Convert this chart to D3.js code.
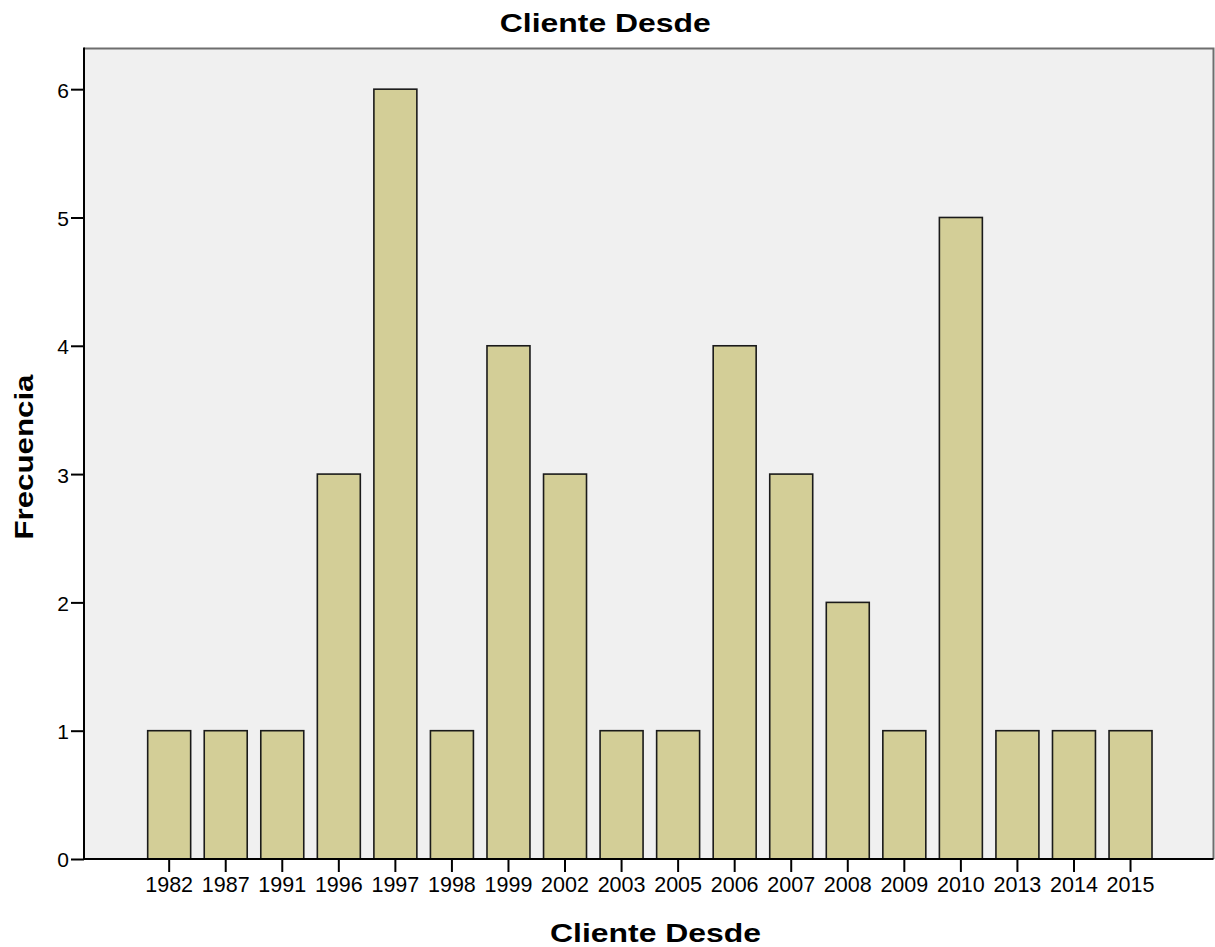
<!DOCTYPE html>
<html>
<head>
<meta charset="utf-8">
<script src="https://cdn.jsdelivr.net/npm/d3@7"></script>
<style>
  html, body { margin: 0; padding: 0; background: #ffffff; }
  svg { display: block; }
  text { font-family: "Liberation Sans", Arial, sans-serif; fill: #000; }
</style>
</head>
<body>
<svg id="chart" width="1215" height="947"></svg>
<script>
const categories = ["1982","1987","1991","1996","1997","1998","1999","2002","2003","2005","2006","2007","2008","2009","2010","2013","2014","2015"];
const frequencies = [1,1,1,3,6,1,4,3,1,1,4,3,2,1,5,1,1,1];
const yTicks = [0,1,2,3,4,5,6];
const chartTitle = "Cliente Desde";
const xTitle = "Cliente Desde";
const yTitle = "Frecuencia";

const svg = d3.select("#chart");
const plot = { left: 84, right: 1213.5, top: 48.5, bottom: 859 };

const x = d3.scaleBand()
  .domain(categories)
  .range([140.9, 1158.8])
  .paddingInner(0.24)
  .paddingOuter(0.12);

const y = d3.scaleLinear()
  .domain([0, 6.317])
  .range([plot.bottom, plot.top]);

// plot background
svg.append("rect")
  .attr("x", plot.left).attr("y", plot.top)
  .attr("width", plot.right - plot.left)
  .attr("height", plot.bottom - plot.top)
  .attr("fill", "#f0f0f0");

// top and right frame
svg.append("path")
  .attr("d", `M${plot.left},${plot.top}H${plot.right}V${plot.bottom}`)
  .attr("fill", "none")
  .attr("stroke", "#6e6e6e")
  .attr("stroke-width", 2);

// bars
const data = categories.map((c, i) => ({ c, v: frequencies[i] }));
svg.append("g").selectAll("rect")
  .data(data)
  .join("rect")
  .attr("x", d => x(d.c))
  .attr("y", d => y(d.v))
  .attr("width", x.bandwidth())
  .attr("height", d => y(0) - y(d.v))
  .attr("fill", "#d3ce97")
  .attr("stroke", "#1a1a1a")
  .attr("stroke-width", 1.6);

// y axis
const yAxis = d3.axisLeft(y)
  .tickValues(yTicks)
  .tickFormat(d3.format("d"))
  .tickSize(13)
  .tickPadding(2);
const gy = svg.append("g")
  .attr("transform", `translate(${plot.left},0)`)
  .call(yAxis);
gy.select(".domain").remove();
gy.selectAll(".tick line").attr("stroke", "#000").attr("stroke-width", 2);
gy.selectAll(".tick text")
  .attr("font-size", "21px")
  .attr("font-family", "Liberation Sans, Arial, sans-serif")
  .attr("fill", "#000")
  .attr("dy", "0.38em");
svg.append("line")
  .attr("x1", plot.left).attr("x2", plot.left)
  .attr("y1", plot.top - 1).attr("y2", plot.bottom + 1)
  .attr("stroke", "#000").attr("stroke-width", 2);

// x axis
const xAxis = d3.axisBottom(x)
  .tickSize(13)
  .tickPadding(5);
const gx = svg.append("g")
  .attr("transform", `translate(0,${plot.bottom})`)
  .call(xAxis);
gx.select(".domain").remove();
gx.selectAll(".tick line").attr("stroke", "#000").attr("stroke-width", 2);
gx.selectAll(".tick text")
  .attr("font-size", "21.5px")
  .attr("font-family", "Liberation Sans, Arial, sans-serif")
  .attr("fill", "#000");
svg.append("line")
  .attr("x1", plot.left - 1).attr("x2", plot.right)
  .attr("y1", plot.bottom).attr("y2", plot.bottom)
  .attr("stroke", "#000").attr("stroke-width", 2);

// titles
svg.append("text")
  .attr("x", 605.3).attr("y", 31.7)
  .attr("text-anchor", "middle")
  .attr("font-size", "25.5px")
  .attr("font-weight", "bold")
  .attr("textLength", 211)
  .attr("lengthAdjust", "spacingAndGlyphs")
  .text(chartTitle);

svg.append("text")
  .attr("x", 655.5).attr("y", 941.7)
  .attr("text-anchor", "middle")
  .attr("font-size", "25.5px")
  .attr("font-weight", "bold")
  .attr("textLength", 211)
  .attr("lengthAdjust", "spacingAndGlyphs")
  .text(xTitle);

svg.append("text")
  .attr("transform", "translate(33.3,457) rotate(-90)")
  .attr("text-anchor", "middle")
  .attr("font-size", "25.5px")
  .attr("font-weight", "bold")
  .attr("textLength", 165)
  .attr("lengthAdjust", "spacingAndGlyphs")
  .text(yTitle);
</script>
</body>
</html>
